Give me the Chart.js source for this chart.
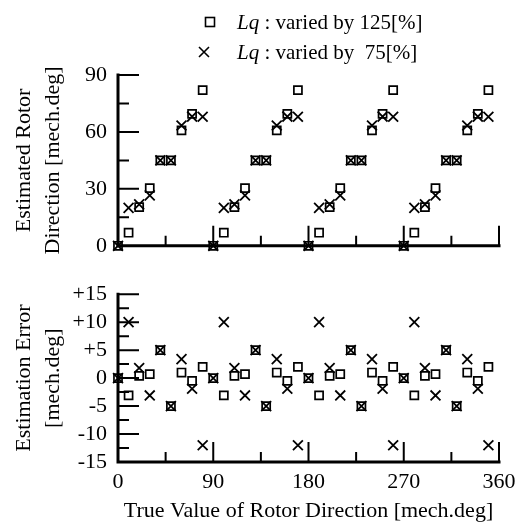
<!DOCTYPE html>
<html>
<head>
<meta charset="utf-8">
<title>Estimated rotor direction</title>
<script src="https://cdn.jsdelivr.net/npm/chart.js@4.4.1/dist/chart.umd.min.js"></script>
<style>
    html, body { margin: 0; padding: 0; background: #fff; }
    #wrap { position: relative; width: 524px; height: 528px; overflow: hidden; }
    #topChart { position: absolute; left: 0; top: 0; }
    #errChart { position: absolute; left: 0; top: 270px; }
    .legend-row {
        position: absolute; height: 30px; line-height: 30px; white-space: nowrap;
        font-family: "Liberation Serif", "DejaVu Serif", serif; font-size: 21px; color: #000;
    }
    .legend-row svg { position: absolute; top: 9px; }
    .legend-row span { position: absolute; left: 33px; }
</style>
</head>
<body>
<div id="wrap">
    <canvas id="topChart" width="524" height="270"></canvas>
    <canvas id="errChart" width="524" height="258"></canvas>

    <div class="legend-row" style="left:204px; top:7px;">
        <svg width="12" height="12"><rect x="1.5" y="1.5" width="9" height="9" fill="none" stroke="#000" stroke-width="1.6"/></svg>
        <span><i>Lq</i> : varied by 125[%]</span>
    </div>
    <div class="legend-row" style="left:204px; top:37px;">
        <svg width="12" height="12" style="left:-6px"><path d="M1 1 L11 11 M11 1 L1 11" stroke="#000" stroke-width="1.6"/></svg>
        <span><i>Lq</i> : varied by&nbsp; 75[%]</span>
    </div>
</div>

<script>
// True rotor direction [mech.deg], sampled every 10 degrees
const trueDir = [0, 10, 20, 30, 40, 50, 60, 70, 80,
                 90, 100, 110, 120, 130, 140, 150, 160, 170,
                 180, 190, 200, 210, 220, 230, 240, 250, 260,
                 270, 280, 290, 300, 310, 320, 330, 340, 350];

// Estimated rotor direction [mech.deg]
const estLq125 = [0, 6.9, 20.4, 30.4, 45, 45, 60.8, 69.5, 82,
                  0, 6.9, 20.4, 30.4, 45, 45, 60.8, 69.5, 82,
                  0, 6.9, 20.4, 30.4, 45, 45, 60.8, 69.5, 82,
                  0, 6.9, 20.4, 30.4, 45, 45, 60.8, 69.5, 82];
const estLq75 = [0, 20, 21.8, 26.6, 45, 45, 63.4, 68.1, 68,
                 0, 20, 21.8, 26.6, 45, 45, 63.4, 68.1, 68,
                 0, 20, 21.8, 26.6, 45, 45, 63.4, 68.1, 68,
                 0, 20, 21.8, 26.6, 45, 45, 63.4, 68.1, 68];

// Estimation error [mech.deg]
const errLq125 = [0, -3.1, 0.4, 0.7, 5, -5, 1.0, -0.5, 2.0,
                  0, -3.1, 0.4, 0.7, 5, -5, 1.0, -0.5, 2.0,
                  0, -3.1, 0.4, 0.7, 5, -5, 1.0, -0.5, 2.0,
                  0, -3.1, 0.4, 0.7, 5, -5, 1.0, -0.5, 2.0];
const errLq75 = [0, 10, 1.8, -3.1, 5, -5, 3.4, -1.9, -12,
                 0, 10, 1.8, -3.1, 5, -5, 3.4, -1.9, -12,
                 0, 10, 1.8, -3.1, 5, -5, 3.4, -1.9, -12,
                 0, 10, 1.8, -3.1, 5, -5, 3.4, -1.9, -12];

// Axis settings
const xTicks = [0, 90, 180, 270, 360];
const estTicks = [0, 30, 60, 90];
const errTicks = [-15, -10, -5, 0, 5, 10, 15];

const SERIF = '"Liberation Serif", "DejaVu Serif", serif';

function toPoints(xs, ys) {
    return xs.map(function(x, i) { return { x: x, y: ys[i] }; });
}

/**
 * Draws the L-shaped frame (left + bottom axis) and the inward tick marks.
 * Tick positions come from the chart scales. Major ticks are long, minor ticks short.
 */
const innerTicks = {
    id: 'innerTicks',
    beforeDatasetsDraw(chart, args, opts) {
        const ctx = chart.ctx;
        const x = chart.scales.x, y = chart.scales.y;
        const x0 = x.getPixelForValue(x.min), x1 = x.getPixelForValue(x.max);
        const y0 = y.getPixelForValue(y.min), y1 = y.getPixelForValue(y.max);

        ctx.save();
        ctx.strokeStyle = '#000';
        ctx.lineCap = 'square';
        ctx.lineWidth = 3;
        ctx.beginPath();
        ctx.moveTo(x0, y1);
        ctx.lineTo(x0, y0);
        ctx.lineTo(x1, y0);
        ctx.stroke();

        ctx.lineWidth = 2;
        ctx.lineCap = 'butt';
        ctx.beginPath();
        for (let v = y.min + opts.yStep; v <= y.max + 0.001; v += opts.yStep) {
            const py = y.getPixelForValue(v);
            const len = (Math.abs(v % opts.yMajor) < 0.001) ? 21 : 11;
            ctx.moveTo(x0, py);
            ctx.lineTo(x0 + len, py);
        }
        for (let v = x.min + 45; v <= x.max + 0.001; v += 45) {
            const px = x.getPixelForValue(v);
            const len = (v % 90 === 0) ? 20 : 10;
            ctx.moveTo(px, y0);
            ctx.lineTo(px, y0 - len);
        }
        ctx.stroke();
        ctx.restore();
    }
};

function markerSets(sqData, crData) {
    return [{
        label: 'Lq : varied by 125[%]',
        data: sqData,
        pointStyle: 'rect',
        pointRadius: 5.7,
        borderWidth: 1.7,
        borderColor: '#000',
        backgroundColor: 'rgba(0,0,0,0)',
        clip: false
    }, {
        label: 'Lq : varied by 75[%]',
        data: crData,
        pointStyle: 'crossRot',
        pointRadius: 7,
        borderWidth: 1.8,
        borderColor: '#000',
        backgroundColor: 'rgba(0,0,0,0)',
        clip: false
    }];
}

function fixedTicks(values) {
    return function(scale) {
        scale.ticks = values.map(function(v) { return { value: v }; });
    };
}

document.addEventListener('DOMContentLoaded', function() {
    Chart.defaults.font.family = SERIF;
    Chart.defaults.color = '#000';

    // Upper plot: estimated rotor direction
    new Chart(document.getElementById('topChart'), {
        type: 'scatter',
        data: { datasets: markerSets(toPoints(trueDir, estLq125), toPoints(trueDir, estLq75)) },
        plugins: [innerTicks],
        options: {
            responsive: false,
            animation: false,
            layout: { padding: { top: 75, right: 25, bottom: 20, left: 0 } },
            plugins: {
                legend: { display: false },
                tooltip: { enabled: false },
                innerTicks: { yStep: 15, yMajor: 30 }
            },
            scales: {
                x: {
                    type: 'linear', min: 0, max: 360,
                    grid: { display: false, drawTicks: false },
                    border: { display: false },
                    ticks: { display: false, autoSkip: false },
                    afterBuildTicks: fixedTicks(xTicks),
                    afterFit: function(scale) { scale.height = 0; }
                },
                y: {
                    type: 'linear', min: 0, max: 90,
                    grid: { display: false, drawTicks: false },
                    border: { display: false },
                    ticks: { padding: 11, font: { size: 22 }, autoSkip: false },
                    afterBuildTicks: fixedTicks(estTicks),
                    title: {
                        display: true,
                        text: ['Estimated Rotor', 'Direction [mech.deg]'],
                        font: { size: 22, lineHeight: 1.32 },
                        padding: { top: 9.5, bottom: 0 }
                    },
                    afterFit: function(scale) { scale.width = 118; }
                }
            }
        }
    });

    // Lower plot: estimation error
    new Chart(document.getElementById('errChart'), {
        type: 'scatter',
        data: { datasets: markerSets(toPoints(trueDir, errLq125), toPoints(trueDir, errLq75)) },
        plugins: [innerTicks],
        options: {
            responsive: false,
            animation: false,
            layout: { padding: { top: 16, right: 25, bottom: 0, left: 0 } },
            plugins: {
                legend: { display: false },
                tooltip: { enabled: false },
                innerTicks: { yStep: 2.5, yMajor: 5 }
            },
            scales: {
                x: {
                    type: 'linear', min: 0, max: 360,
                    grid: { display: false, drawTicks: false },
                    border: { display: false },
                    ticks: { padding: 7, font: { size: 22 }, maxRotation: 0, autoSkip: false },
                    afterBuildTicks: fixedTicks(xTicks),
                    title: {
                        display: true,
                        text: 'True Value of Rotor Direction [mech.deg]',
                        font: { size: 22 },
                        padding: { top: 0, bottom: 4 }
                    },
                    afterFit: function(scale) { scale.height = 66; }
                },
                y: {
                    type: 'linear', min: -15, max: 15,
                    grid: { display: false, drawTicks: false },
                    border: { display: false },
                    ticks: {
                        padding: 11,
                        font: { size: 22 },
                        autoSkip: false,
                        callback: function(v) { return v > 0 ? '+' + v : String(v); }
                    },
                    afterBuildTicks: fixedTicks(errTicks),
                    title: {
                        display: true,
                        text: ['Estimation Error', '[mech.deg]'],
                        font: { size: 22, lineHeight: 1.32 },
                        padding: { top: 9.5, bottom: 0 }
                    },
                    afterFit: function(scale) { scale.width = 118; }
                }
            }
        }
    });
});
</script>
</body>
</html>
